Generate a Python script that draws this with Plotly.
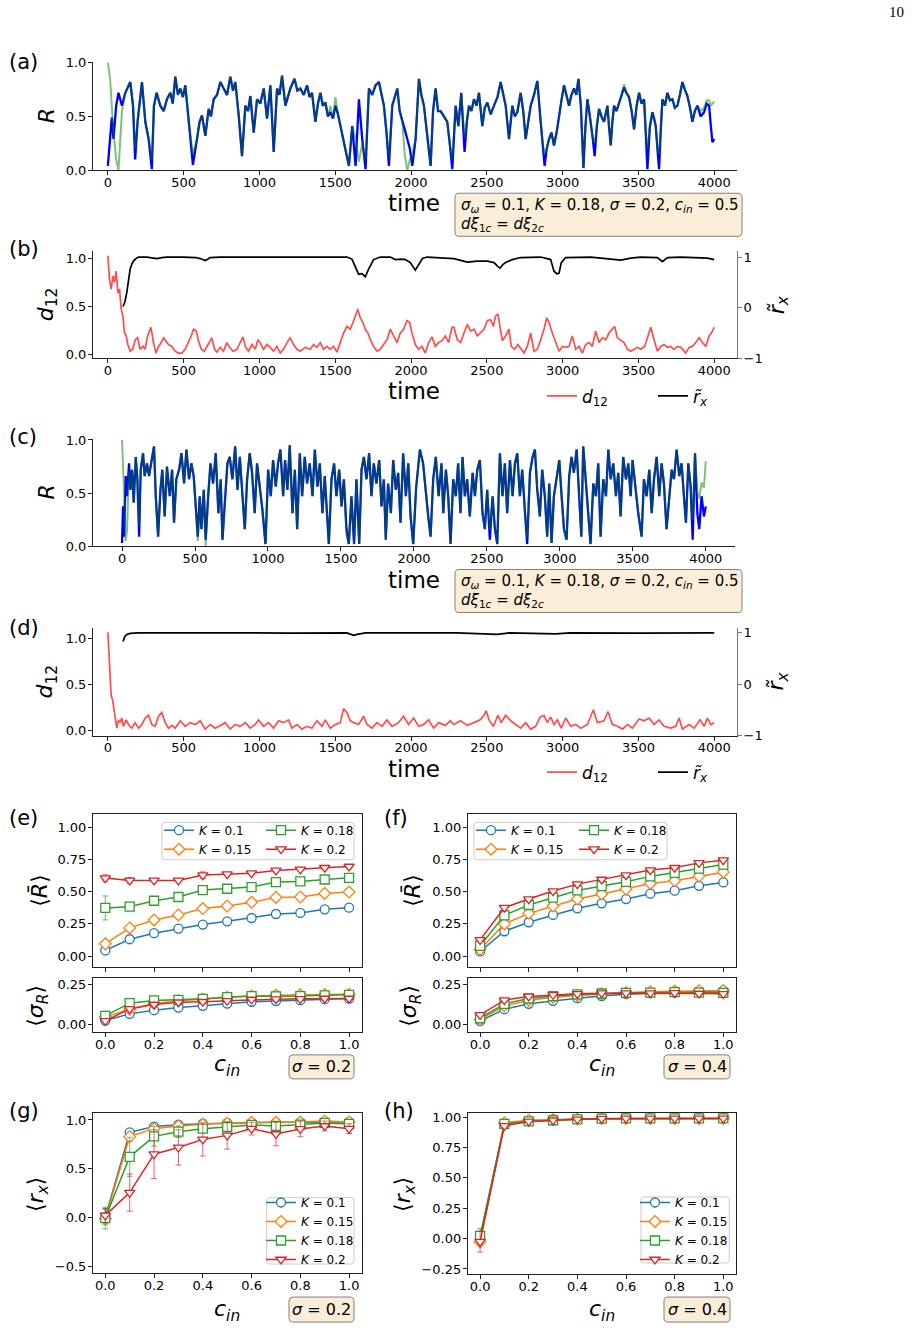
import plotly.graph_objects as go

# ---------------------------------------------------------------- data
time_ticks = [0, 500, 1000, 1500, 2000, 2500, 3000, 3500, 4000]

# (a) R of the two populations (time, R); green follows blue except where listed
a_blue = [(0,.04),(15,.26),(26,.49),(37,.29),(55,.60),(70,.72),(93,.60),(115,.72),(148,.82),(166,.60),(180,.10),(196,.45),(225,.82),(247,.45),(269,.29),(290,.01),(304,.60),(322,.72),(346,.60),(368,.55),(390,.66),(412,.72),(428,.62),(445,.87),(462,.70),(478,.76),(495,.68),(511,.79),(533,.45),(561,.05),(588,.29),(605,.45),(621,.51),(643,.32),(665,.57),(680,.50),(698,.66),(720,.70),(742,.82),(764,.76),(786,.70),(808,.87),(825,.74),(841,.82),(863,.51),(885,.13),(907,.60),(925,.55),(940,.69),(962,.35),(984,.66),(1006,.62),(1028,.76),(1050,.48),(1072,.79),(1094,.17),(1116,.76),(1132,.70),(1149,.88),(1171,.60),(1188,.68),(1204,.76),(1231,.85),(1250,.74),(1270,.76),(1292,.70),(1314,.79),(1330,.68),(1347,.72),(1369,.45),(1386,.62),(1402,.72),(1418,.60),(1435,.63),(1452,.50),(1468,.54),(1485,.48),(1501,.60),(1518,.52),(1534,.41),(1552,.30),(1568,.17),(1590,.04),(1612,.41),(1634,.04),(1656,.66),(1678,.29),(1700,.01),(1722,.76),(1744,.70),(1766,.79),(1788,.82),(1805,.70),(1821,.60),(1838,.35),(1854,.04),(1876,.60),(1892,.68),(1909,.76),(1925,.55),(1942,.45),(1958,.38),(1975,.29),(1992,.20),(2008,.04),(2030,.29),(2052,.85),(2068,.70),(2085,.60),(2108,.30),(2129,.04),(2145,.55),(2162,.76),(2178,.55),(2195,.55),(2217,.50),(2239,.45),(2255,.25),(2272,.01),(2294,.60),(2312,.41),(2331,.72),(2353,.17),(2368,.45),(2382,.60),(2398,.55),(2415,.66),(2432,.60),(2448,.72),(2470,.41),(2486,.58),(2503,.63),(2525,.52),(2547,.60),(2570,.68),(2591,.82),(2608,.70),(2624,.60),(2646,.29),(2668,.60),(2685,.50),(2701,.54),(2723,.72),(2740,.55),(2756,.29),(2772,.45),(2789,.60),(2811,.70),(2833,.83),(2855,.45),(2868,.25),(2881,.04),(2895,.20),(2910,.29),(2926,.35),(2943,.23),(2960,.35),(2976,.48),(2992,.65),(3009,.79),(3025,.70),(3042,.60),(3058,.70),(3075,.76),(3090,.70),(3104,.85),(3120,.60),(3137,.02),(3150,.40),(3163,.66),(3175,.55),(3185,.45),(3198,.30),(3211,.13),(3225,.40),(3240,.57),(3256,.50),(3273,.45),(3295,.60),(3306,.40),(3317,.23),(3328,.45),(3339,.60),(3355,.55),(3372,.63),(3390,.70),(3405,.77),(3420,.72),(3438,.68),(3455,.55),(3471,.38),(3488,.60),(3504,.72),(3520,.62),(3537,.66),(3548,.35),(3559,.01),(3575,.40),(3592,.54),(3603,.48),(3614,.41),(3625,.20),(3636,.01),(3648,.40),(3658,.66),(3675,.60),(3691,.72),(3708,.65),(3724,.66),(3740,.58),(3757,.60),(3773,.70),(3790,.82),(3806,.75),(3823,.69),(3840,.58),(3856,.45),(3872,.55),(3889,.60),(3910,.50),(3933,.54),(3950,.62),(3966,.60),(3978,.40),(3988,.26),(4000,.29)]
a_green_diff = {0:1.0,15:.85,26:.60,37:.35,55:.10,70:.00,93:.55,180:.20,290:.10,561:.15,1468:.60,1501:.68,1634:.30,1656:.08,1678:.25,1700:.10,1854:.12,1958:.15,1975:.00,1992:.10,2008:.15,2272:.10,2353:.30,2881:.15,3211:.25,3405:.80,3559:.20,3636:.15,3910:.55,3933:.58,3950:.65,3966:.65,3978:.60,3988:.62,4000:.64}

# (b) d12 (left axis) and r~x (right axis)
b_d12 = [(0,1.03),(11,.78),(22,.68),(33,.82),(44,.75),(55,.87),(66,.64),(77,.68),(88,.47),(99,.40),(110,.22),(121,.19),(132,.10),(147,.03),(165,.05),(180,.15),(196,.17),(213,.05),(231,.08),(246,.05),(262,.19),(284,.28),(301,.12),(317,.01),(334,.08),(352,.12),(367,.17),(383,.14),(400,.10),(422,.08),(444,.03),(466,.01),(488,.01),(510,.05),(532,.12),(550,.19),(565,.26),(583,.24),(598,.14),(616,.05),(636,.03),(653,.08),(671,.12),(686,.17),(704,.05),(719,.02),(741,.07),(763,.03),(785,.12),(803,.07),(825,.03),(851,.05),(873,.12),(891,.18),(909,.07),(928,.03),(950,.10),(972,.05),(990,.15),(1005,.12),(1027,.05),(1049,.10),(1071,.07),(1093,.03),(1115,.08),(1137,.01),(1159,.05),(1181,.12),(1203,.17),(1225,.10),(1247,.05),(1269,.03),(1302,.07),(1335,.05),(1357,.10),(1379,.07),(1401,.12),(1423,.05),(1445,.08),(1467,.05),(1489,.08),(1511,.02),(1533,.12),(1555,.22),(1577,.29),(1599,.26),(1617,.33),(1632,.40),(1648,.47),(1665,.38),(1683,.33),(1698,.26),(1716,.22),(1731,.15),(1753,.08),(1775,.03),(1797,.05),(1819,.10),(1841,.15),(1863,.26),(1885,.19),(1907,.12),(1929,.22),(1951,.26),(1973,.35),(1991,.33),(2006,.22),(2028,.10),(2050,.05),(2072,.08),(2094,.01),(2116,.12),(2138,.18),(2160,.08),(2182,.12),(2204,.14),(2226,.19),(2248,.12),(2270,.28),(2283,.28),(2305,.15),(2327,.12),(2349,.22),(2371,.31),(2393,.24),(2415,.26),(2437,.19),(2459,.22),(2481,.26),(2503,.35),(2525,.36),(2543,.29),(2558,.40),(2573,.42),(2587,.29),(2602,.14),(2624,.19),(2646,.26),(2661,.08),(2683,.05),(2705,.10),(2727,.05),(2745,.01),(2767,.08),(2789,.22),(2811,.03),(2833,.05),(2855,.15),(2877,.26),(2895,.38),(2910,.33),(2932,.22),(2954,.12),(2976,.03),(2998,.08),(3020,.07),(3042,.08),(3064,.19),(3086,.05),(3108,.08),(3130,.01),(3152,.10),(3174,.12),(3196,.08),(3218,.24),(3240,.12),(3262,.17),(3284,.15),(3306,.22),(3328,.26),(3343,.29),(3361,.17),(3383,.14),(3405,.12),(3427,.05),(3449,.03),(3471,.05),(3493,.07),(3515,.05),(3541,.08),(3563,.19),(3581,.28),(3603,.15),(3625,.03),(3647,.08),(3669,.10),(3691,.07),(3713,.08),(3735,.05),(3757,.08),(3779,.07),(3812,.01),(3834,.07),(3856,.08),(3878,.12),(3900,.17),(3922,.12),(3944,.08),(3966,.19),(3981,.22),(4000,.28)]
b_rx = [(100,.02),(113,.12),(125,.30),(136,.55),(147,.76),(158,.86),(169,.92),(185,.97),(202,1.0),(257,1.0),(290,.99),(323,.97),(356,.99),(389,1.0),(499,1.0),(580,.99),(609,.97),(642,.93),(660,.96),(675,.99),(741,1.0),(1049,1.0),(1300,.995),(1489,1.0),(1577,1.0),(1610,.96),(1632,.80),(1654,.66),(1676,.67),(1698,.61),(1720,.76),(1753,.95),(1797,1.0),(1863,1.0),(1896,.95),(1940,.96),(1962,.95),(1995,.89),(2028,.74),(2050,.86),(2075,.97),(2105,1.0),(2195,.99),(2283,.97),(2371,.90),(2437,.92),(2503,.92),(2547,.89),(2570,.82),(2587,.78),(2605,.85),(2624,.89),(2668,.95),(2723,.99),(2855,1.0),(2921,.95),(2935,.80),(2943,.72),(2961,.67),(2976,.68),(2991,.89),(3020,.99),(3185,1.0),(3251,.98),(3383,.94),(3449,.98),(3515,1.0),(3625,.99),(3658,.91),(3691,.99),(3779,1.0),(3955,.98),(4000,.95)]

# (c) R of the two populations, sigma = 0.4
c_blue = [(0,.03),(7,.375),(14,.09),(25,.66),(34,.47),(48,.78),(57,.53),(69,.72),(80,.41),(94,.84),(105,.63),(117,.09),(128,.72),(144,.875),(155,.66),(171,.78),(185,.66),(201,.81),(219,.94),(231,.47),(247,.09),(263,.53),(276,.72),(292,.28),(308,.75),(327,.47),(343,.72),(356,.22),(372,.63),(391,.72),(407,.875),(425,.59),(441,.91),(459,.63),(475,.78),(491,.66),(505,.375),(519,.09),(532,.47),(544,.16),(560,.53),(573,.06),(590,.47),(606,.78),(624,.59),(642,.875),(660,.31),(676,.63),(688,.06),(706,.47),(722,.78),(738,.84),(756,.63),(775,.94),(791,.53),(807,.84),(825,.47),(841,.16),(857,.63),(875,.875),(891,.69),(909,.31),(925,.78),(944,.56),(962,.34),(983,.02),(1001,.72),(1019,.47),(1035,.81),(1053,.56),(1069,.78),(1085,.91),(1104,.47),(1117,.81),(1133,.53),(1149,.95),(1168,.31),(1184,.72),(1200,.16),(1218,.875),(1234,.47),(1252,.84),(1268,.59),(1286,.78),(1305,.47),(1321,.91),(1339,.56),(1355,.78),(1373,.31),(1389,.66),(1405,.22),(1417,.02),(1435,.63),(1453,.78),(1469,.47),(1488,.72),(1504,.375),(1520,.63),(1538,.16),(1554,.02),(1572,.47),(1590,.02),(1606,.63),(1625,.02),(1641,.72),(1657,.84),(1675,.63),(1693,.875),(1709,.47),(1725,.78),(1743,.59),(1762,.81),(1778,.375),(1794,.63),(1807,.06),(1823,.59),(1842,.31),(1858,.81),(1876,.53),(1892,.69),(1908,.22),(1926,.875),(1945,.47),(1961,.78),(1977,.28),(1995,.02),(2015,.55),(2041,.91),(2063,.78),(2082,.47),(2098,.28),(2114,.09),(2132,.63),(2150,.84),(2169,.47),(2189,.78),(2201,.31),(2219,.72),(2235,.47),(2251,.02),(2269,.63),(2287,.47),(2303,.78),(2319,.31),(2333,.84),(2349,.47),(2365,.63),(2383,.28),(2402,.69),(2418,.47),(2434,.72),(2452,.81),(2470,.31),(2486,.16),(2502,.53),(2520,.06),(2539,.47),(2555,.16),(2571,.02),(2589,.875),(2607,.47),(2623,.78),(2639,.31),(2658,.81),(2676,.47),(2692,.78),(2708,.875),(2726,.47),(2742,.72),(2760,.34),(2776,.02),(2795,.69),(2813,.84),(2829,.91),(2845,.53),(2863,.28),(2879,.72),(2897,.47),(2913,.09),(2927,.59),(2943,.03),(2959,.47),(2977,.63),(2996,.81),(3012,.47),(3028,.16),(3046,.06),(3064,.66),(3080,.84),(3096,.69),(3115,.91),(3131,.47),(3147,.09),(3160,.94),(3176,.63),(3194,.31),(3210,.02),(3229,.59),(3247,.47),(3263,.78),(3279,.09),(3297,.63),(3316,.47),(3332,.91),(3348,.63),(3366,.78),(3384,.47),(3400,.69),(3416,.28),(3434,.84),(3453,.63),(3469,.78),(3485,.47),(3498,.81),(3514,.59),(3537,.31),(3560,.09),(3576,.63),(3594,.47),(3613,.72),(3629,.31),(3645,.63),(3663,.84),(3681,.47),(3697,.78),(3713,.59),(3731,.16),(3750,.47),(3766,.72),(3782,.63),(3800,.91),(3818,.66),(3834,.78),(3850,.47),(3864,.22),(3880,.78),(3896,.56),(3910,.06),(3926,.875),(3942,.31),(3955,.16),(3971,.47),(3987,.28),(4000,.375)]
c_green_diff = {0:1.0,7:.80,14:.50,25:.05,34:.15,48:.70,117:.20,519:.05,573:.00,1538:.10,2520:.15,2776:.08,3910:.25,3942:.50,3955:.45,3971:.60,3987:.55,4000:.80}

# (d) d12 (left axis) and r~x (right axis)
d_d12 = [(0,1.07),(7,.85),(15,.59),(22,.38),(31,.34),(37,.27),(48,.16),(59,.03),(70,.12),(81,.09),(92,.14),(103,.05),(121,.12),(136,.07),(158,.03),(180,.09),(202,.03),(224,.07),(246,.14),(268,.17),(290,.07),(312,.05),(334,.16),(356,.20),(378,.09),(400,.03),(422,.06),(444,.03),(477,.11),(510,.05),(543,.09),(576,.07),(609,.11),(642,.02),(675,.07),(708,.03),(741,.06),(774,.09),(807,.02),(840,.07),(873,.05),(906,.09),(939,.03),(972,.07),(994,.12),(1027,.05),(1060,.09),(1093,.03),(1126,.11),(1159,.09),(1192,.12),(1214,.03),(1247,.07),(1280,.02),(1313,.05),(1346,.03),(1379,.11),(1412,.05),(1434,.12),(1467,.03),(1500,.07),(1533,.09),(1555,.24),(1577,.20),(1599,.11),(1621,.09),(1654,.07),(1687,.16),(1709,.07),(1742,.03),(1775,.09),(1808,.05),(1841,.12),(1874,.05),(1918,.09),(1951,.16),(1984,.07),(2017,.14),(2050,.05),(2083,.07),(2116,.12),(2149,.03),(2182,.09),(2226,.06),(2259,.11),(2283,.07),(2327,.11),(2371,.06),(2415,.09),(2455,.12),(2481,.17),(2496,.22),(2514,.12),(2543,.05),(2573,.17),(2595,.09),(2624,.17),(2657,.11),(2690,.07),(2723,.03),(2756,.09),(2789,.02),(2822,.05),(2851,.15),(2877,.17),(2899,.09),(2921,.15),(2943,.07),(2965,.12),(2991,.03),(3020,.14),(3053,.05),(3086,.07),(3119,.03),(3163,.07),(3203,.23),(3229,.09),(3273,.11),(3299,.21),(3328,.07),(3361,.05),(3394,.02),(3427,.07),(3460,.03),(3504,.13),(3537,.11),(3570,.14),(3603,.07),(3636,.12),(3669,.05),(3713,.03),(3746,.05),(3768,.14),(3790,.02),(3834,.07),(3867,.03),(3906,.12),(3933,.05),(3955,.14),(3977,.07),(4000,.09)]
d_rx = [(100,.83),(112,.93),(125,.97),(147,.99),(200,1.0),(400,.995),(800,1.0),(1200,.995),(1577,1.0),(1621,.95),(1643,.97),(1700,1.0),(2000,.995),(2300,1.0),(2569,.97),(2650,1.0),(2954,.98),(3050,1.0),(3500,.995),(4000,1.0)]

# (e)-(h) summary statistics vs c_in
c_in = [0.0, 0.1, 0.2, 0.3, 0.4, 0.5, 0.6, 0.7, 0.8, 0.9, 1.0]
K_names = ["<i>K</i> = 0.1", "<i>K</i> = 0.15", "<i>K</i> = 0.18", "<i>K</i> = 0.2"]

e_R = [[.044,.131,.178,.214,.245,.270,.296,.327,.335,.363,.376],
       [.095,.219,.281,.320,.369,.389,.418,.456,.459,.487,.497],
       [.374,.384,.430,.459,.513,.523,.536,.575,.580,.595,.608],
       [.606,.588,.588,.588,.629,.637,.644,.665,.673,.686,.696]]
e_R_err = [[.008,.008,.008,.008,.008,.008,.008,.008,.008,.008,.008],
           [.01,.01,.01,.01,.01,.01,.01,.01,.01,.01,.01],
           [.093,.025,.012,.018,.028,.012,.012,.012,.012,.012,.012],
           [.025,.022,.012,.012,.025,.012,.012,.012,.012,.012,.012]]
e_S = [[.027,.068,.091,.107,.118,.132,.143,.147,.153,.159,.163],
       [.048,.097,.132,.149,.159,.171,.178,.184,.186,.188,.190],
       [.056,.134,.151,.155,.161,.171,.178,.176,.178,.182,.186],
       [.025,.099,.126,.140,.143,.149,.157,.159,.161,.163,.163]]
f_R = [[.036,.193,.263,.320,.371,.410,.443,.485,.508,.546,.572],
       [.052,.250,.332,.389,.443,.482,.521,.564,.585,.621,.652],
       [.080,.317,.397,.454,.510,.544,.577,.619,.647,.680,.711],
       [.126,.376,.443,.505,.559,.595,.629,.668,.686,.724,.745]]
f_R_err = [[.008]*11, [.008]*11, [.01]*11, [.012]*11]
f_S = [[.023,.097,.130,.149,.165,.178,.190,.196,.200,.205,.211],
       [.031,.118,.151,.171,.182,.192,.198,.205,.209,.211,.213],
       [.041,.130,.163,.178,.188,.194,.198,.200,.202,.200,.198],
       [.062,.153,.176,.186,.192,.196,.196,.196,.198,.194,.192]]
g_rx = [[.007,.873,.932,.952,.962,.969,.973,.976,.976,.979,.979],
        [-.010,.829,.911,.938,.955,.966,.976,.976,.979,.990,.979],
        [-.003,.623,.832,.880,.911,.928,.949,.938,.952,.969,.959],
        [.024,.257,.650,.719,.801,.842,.911,.856,.908,.938,.911]]
g_rx_err = [[.08,.02,.01,.01,.01,.01,.01,.01,.01,.01,.01],
            [.05,.05,.02,.02,.01,.01,.01,.01,.01,.01,.01],
            [.11,.20,.10,.06,.04,.03,.03,.03,.02,.02,.02],
            [.07,.19,.25,.18,.17,.14,.065,.12,.08,.05,.05]]
h_rx = [[.000,.950,.970,.980,.985,.990,.990,.990,.990,.990,.990],
        [-.025,.955,.975,.980,.985,.990,.990,.990,.990,.990,.990],
        [.022,.945,.965,.975,.983,.988,.990,.990,.990,.990,.990],
        [-.025,.929,.965,.975,.983,.988,.990,.990,.990,.990,.990]]
h_rx_err = [[.05,.01,.01,.01,.01,.01,.01,.01,.01,.01,.01],
            [.03,.01,.01,.01,.01,.01,.01,.01,.01,.01,.01],
            [.06,.01,.01,.01,.01,.01,.01,.01,.01,.01,.01],
            [.085,.02,.01,.01,.01,.01,.01,.01,.01,.01,.01]]

# ---------------------------------------------------------------- style
W, H = 912, 1329
FONT = "DejaVu Sans"
COLORS = ["#1f77b4", "#ff7f0e", "#2ca02c", "#d62728"]
ERRCOL = ["rgba(31,119,180,0.7)", "rgba(255,127,14,0.7)", "rgba(44,160,44,0.7)", "rgba(214,39,40,0.7)"]
SYMBOLS = ["circle", "diamond", "square", "triangle-down"]
SPINE = "#222222"
# vertical placement calibration of the rendered page
VOFF, VSCALE = 7.9, 0.988


def X(px):
    return px / W


def Y(py):
    return 1 - (py - VOFF) / (VSCALE * H)


def ax(dom, rng, **kw):
    d = dict(domain=dom, range=rng, showgrid=False, zeroline=False,
             ticks="outside", ticklen=4, tickwidth=1, tickcolor=SPINE,
             tickfont=dict(family=FONT, size=13, color="black"),
             showline=True, linecolor=SPINE, linewidth=1, fixedrange=True)
    d.update(kw)
    return d


def with_diff(base, diff):
    return [(t, diff.get(t, r)) for t, r in base]


fig = go.Figure()


def add_line(pairs, xa, ya, color, width, name=None, legend=None):
    fig.add_trace(go.Scatter(
        x=[p[0] for p in pairs], y=[p[1] for p in pairs], mode="lines",
        xaxis=xa, yaxis=ya, line=dict(color=color, width=width),
        name=name, legend=legend, showlegend=legend is not None,
        hoverinfo="skip"))


# (a)
add_line(a_blue, "x", "y", "#0000ff", 2.3)
add_line(with_diff(a_blue, a_green_diff), "x", "y", "rgba(0,128,0,0.5)", 2.0)
# (b)
add_line(b_d12, "x2", "y2", "rgba(255,0,0,0.7)", 1.7, "<i>d</i><sub>12</sub>", "legend")
add_line(b_rx, "x2", "y3", "black", 1.7, "<i>r̃</i><sub><i>x</i></sub>", "legend2")
# (c)
add_line(c_blue, "x3", "y4", "#0000ff", 2.3)
add_line(with_diff(c_blue, c_green_diff), "x3", "y4", "rgba(0,128,0,0.5)", 2.0)
# (d)
add_line(d_d12, "x4", "y5", "rgba(255,0,0,0.7)", 1.7, "<i>d</i><sub>12</sub>", "legend9")
add_line(d_rx, "x4", "y6", "black", 1.7, "<i>r̃</i><sub><i>x</i></sub>", "legend10")


def add_stats(vals, errs, xa, ya, legends):
    for i in range(4):
        leg = legends[i] if legends else None
        fig.add_trace(go.Scatter(
            x=c_in, y=vals[i], mode="lines+markers", xaxis=xa, yaxis=ya,
            name=K_names[i], legend=leg, showlegend=leg is not None,
            line=dict(color=COLORS[i], width=1.5),
            marker=dict(symbol=SYMBOLS[i], size=9, color="white",
                        line=dict(color=COLORS[i], width=1.3)),
            error_y=dict(type="data", array=errs[i], visible=True,
                         color=ERRCOL[i], thickness=1, width=3),
            hoverinfo="skip"))


small_err = [[.004] * 11] * 4
add_stats(e_R, e_R_err, "x5", "y7", ["legend3", "legend3", "legend4", "legend4"])
add_stats(e_S, small_err, "x6", "y8", None)
add_stats(f_R, f_R_err, "x7", "y9", ["legend5", "legend5", "legend6", "legend6"])
add_stats(f_S, small_err, "x8", "y10", None)
add_stats(g_rx, g_rx_err, "x9", "y11", ["legend7"] * 4)
add_stats(h_rx, h_rx_err, "x10", "y12", ["legend8"] * 4)

# ---------------------------------------------------------------- axes
L = {}
TX = dict(tickvals=time_ticks, ticklabelstandoff=-4)
YS = dict(ticklabelstandoff=-1)
L["xaxis"] = ax([X(93), X(737)], [-98, 4150], anchor="y", **TX)
L["yaxis"] = ax([Y(171), Y(63)], [0, 1.005], anchor="x", tickvals=[0, .5, 1], tickformat=".1f", **YS)

L["xaxis2"] = ax([X(93), X(737)], [-98, 4150], anchor="y2", **TX)
L["yaxis2"] = ax([Y(358.7), Y(251.7)], [-0.042, 1.08], anchor="x2", tickvals=[0, .5, 1], tickformat=".1f", **YS)
L["yaxis3"] = ax([Y(358.7), Y(251.7)], [-1.0, 1.12], anchor="x2", overlaying="y2", side="right",
                 tickvals=[-1, 0, 1], linecolor="#777777", tickcolor="#777777", **YS)

L["xaxis3"] = ax([X(93), X(735)], [-199, 4200], anchor="y4", **TX)
L["yaxis4"] = ax([Y(546.7), Y(440)], [0, 1.005], anchor="x3", tickvals=[0, .5, 1], tickformat=".1f", **YS)

L["xaxis4"] = ax([X(93), X(737)], [-98, 4150], anchor="y5", **TX)
L["yaxis5"] = ax([Y(736), Y(628.3)], [-0.051, 1.119], anchor="x4", tickvals=[0, .5, 1], tickformat=".1f", **YS)
L["yaxis6"] = ax([Y(736), Y(628.3)], [-1.0, 1.097], anchor="x4", overlaying="y5", side="right",
                 tickvals=[-1, 0, 1], linecolor="#777777", tickcolor="#777777", **YS)

CX = dict(tickvals=[0, .2, .4, .6, .8, 1.0], tickformat=".1f", mirror=True, ticklabelstandoff=-4)
XE = [X(93), X(362)]
XF = [X(467.8), X(736.2)]
for name, dom, anc, lab in [("xaxis5", XE, "y7", False), ("xaxis6", XE, "y8", True),
                            ("xaxis7", XF, "y9", False), ("xaxis8", XF, "y10", True),
                            ("xaxis9", XE, "y11", True), ("xaxis10", XF, "y12", True)]:
    L[name] = ax(dom, [-0.0505, 1.053], anchor=anc, showticklabels=lab, **CX)

RT = dict(tickvals=[0, .25, .5, .75, 1.0], tickformat=".2f", mirror=True, **YS)
ST = dict(tickvals=[0, .25], tickformat=".2f", mirror=True, **YS)
L["yaxis7"] = ax([Y(967), Y(814)], [-0.083, 1.106], anchor="x5", **RT)
L["yaxis8"] = ax([Y(1032.3), Y(977.7)], [-0.045, 0.293], anchor="x6", **ST)
L["yaxis9"] = ax([Y(967), Y(814)], [-0.083, 1.106], anchor="x7", **RT)
L["yaxis10"] = ax([Y(1032.3), Y(977.7)], [-0.045, 0.293], anchor="x8", **ST)
L["yaxis11"] = ax([Y(1273.3), Y(1112.7)], [-0.568, 1.075], anchor="x9",
                  tickvals=[-.5, 0, .5, 1.0], tickformat=".1f", mirror=True, **YS)
L["yaxis12"] = ax([Y(1274.3), Y(1112.7)], [-0.294, 1.038], anchor="x10",
                  tickvals=[-.25, 0, .25, .5, .75, 1.0], tickformat=".2f", mirror=True, **YS)


# ---------------------------------------------------------------- legends
def leg(xpx, ypx, size):
    return dict(x=X(xpx), y=Y(ypx), xanchor="left", yanchor="middle",
                bgcolor="rgba(0,0,0,0)", borderwidth=0, orientation="v",
                font=dict(family=FONT, size=size, color="black"),
                itemclick=False, itemdoubleclick=False)


L["legend"] = leg(542, 397, 17)
L["legend2"] = leg(653, 397, 17)
L["legend9"] = leg(542, 773, 17)
L["legend10"] = leg(653, 773, 17)
L["legend3"] = leg(159, 840, 12)
L["legend4"] = leg(261, 840, 12)
L["legend5"] = leg(471, 840, 12)
L["legend6"] = leg(574, 840, 12)
L["legend7"] = leg(261, 1231, 12)
L["legend8"] = leg(635, 1231, 12)


# ---------------------------------------------------------------- boxes & text
def rrect(x0, y0, x1, y1, r, fill, line):
    def P(x, y):
        return f"{X(x):.5f},{Y(y):.5f}"
    path = (f"M{P(x0 + r, y0)} L{P(x1 - r, y0)} Q{P(x1, y0)} {P(x1, y0 + r)} "
            f"L{P(x1, y1 - r)} Q{P(x1, y1)} {P(x1 - r, y1)} L{P(x0 + r, y1)} "
            f"Q{P(x0, y1)} {P(x0, y1 - r)} L{P(x0, y0 + r)} Q{P(x0, y0)} {P(x0 + r, y0)} Z")
    return dict(type="path", xref="paper", yref="paper", path=path,
                fillcolor=fill, line=dict(color=line, width=1), layer="above")


WHEAT = "#faeed9"
shapes = [
    rrect(455, 194, 742, 237, 4, WHEAT, "#808080"),
    rrect(455, 570, 742, 613, 4, WHEAT, "#808080"),
    rrect(289, 1055, 354, 1079, 4, WHEAT, "#808080"),
    rrect(664, 1055, 730, 1079, 4, WHEAT, "#808080"),
    rrect(289, 1297, 354, 1322, 4, WHEAT, "#808080"),
    rrect(664, 1297, 730, 1322, 4, WHEAT, "#808080"),
    rrect(162, 822.7, 354, 860, 3, "rgba(255,255,255,0.8)", "#cccccc"),
    rrect(474, 822.7, 667, 860, 3, "rgba(255,255,255,0.8)", "#cccccc"),
    rrect(266.7, 1197.7, 354, 1264, 3, "rgba(255,255,255,0.8)", "#cccccc"),
    rrect(641, 1197, 729.3, 1263, 3, "rgba(255,255,255,0.8)", "#cccccc"),
]


def ann(text, xpx, ypx, size, xanchor="center", yanchor="middle", angle=0, family=FONT):
    return dict(text=text, x=X(xpx), y=Y(ypx), xref="paper", yref="paper",
                xanchor=xanchor, yanchor=yanchor, showarrow=False, textangle=angle,
                font=dict(family=family, size=size, color="black"))


box1 = ("<i>σ</i><sub><i>ω</i></sub> = 0.1, <i>K</i> = 0.18, <i>σ</i> = 0.2, "
        "<i>c</i><sub><i>in</i></sub> = 0.5")
box2 = "<i>dξ</i><sub>1<i>c</i></sub> = <i>dξ</i><sub>2<i>c</i></sub>"
ylR = "⟨<i>R̄</i>⟩"
ylS = "⟨<i>σ</i><sub><i>R</i></sub>⟩"
ylr = "⟨<i>r</i><sub><i>x</i></sub>⟩"
cin = "<i>c</i><sub><i>in</i></sub>"
d12 = "<i>d</i><sub>12</sub>"
rtx = "<i>r̃</i><sub><i>x</i></sub>"

annotations = [
    ann("10", 896, 13, 15, family="Liberation Serif"),
    ann("(a)", 7, 63, 21, xanchor="left"),
    ann("(b)", 7, 250, 21, xanchor="left"),
    ann("(c)", 7, 438, 21, xanchor="left"),
    ann("(d)", 7, 628, 21, xanchor="left"),
    ann("(e)", 7, 818, 21, xanchor="left"),
    ann("(f)", 382, 818, 21, xanchor="left"),
    ann("(g)", 7, 1111, 21, xanchor="left"),
    ann("(h)", 382, 1111, 21, xanchor="left"),
    ann("<i>R</i>", 46, 117, 22, angle=-90),
    ann(d12, 47, 305, 22, angle=-90),
    ann("<i>R</i>", 46, 493, 22, angle=-90),
    ann(d12, 47, 682, 22, angle=-90),
    ann(rtx, 778, 306, 22, angle=-90),
    ann(rtx, 778, 682, 22, angle=-90),
    ann("time", 414, 204, 23),
    ann("time", 414, 392, 23),
    ann("time", 414, 580, 23),
    ann("time", 414, 769, 23),
    ann(box1, 459, 206, 15, xanchor="left"),
    ann(box2, 459, 225, 15, xanchor="left"),
    ann(box1, 459, 582, 15, xanchor="left"),
    ann(box2, 459, 601, 15, xanchor="left"),
    ann(ylR, 40, 891, 22, angle=-90),
    ann(ylS, 38, 1006, 22, angle=-90),
    ann(ylR, 413, 891, 22, angle=-90),
    ann(ylS, 411, 1006, 22, angle=-90),
    ann(ylr, 38, 1195, 22, angle=-90),
    ann(ylr, 405, 1195, 22, angle=-90),
    ann(cin, 227, 1066, 22),
    ann(cin, 602, 1066, 22),
    ann(cin, 227, 1310, 22),
    ann(cin, 602, 1310, 22),
    ann("<i>σ</i> = 0.2", 321.5, 1067, 16),
    ann("<i>σ</i> = 0.4", 697, 1067, 16),
    ann("<i>σ</i> = 0.2", 321.5, 1309.5, 16),
    ann("<i>σ</i> = 0.4", 697, 1309.5, 16),
]

fig.update_layout(
    width=W, height=H, margin=dict(l=0, r=0, t=0, b=0),
    paper_bgcolor="white", plot_bgcolor="white",
    font=dict(family=FONT, size=13, color="black"),
    shapes=shapes, annotations=annotations, **L)

fig.write_html("out.html")
